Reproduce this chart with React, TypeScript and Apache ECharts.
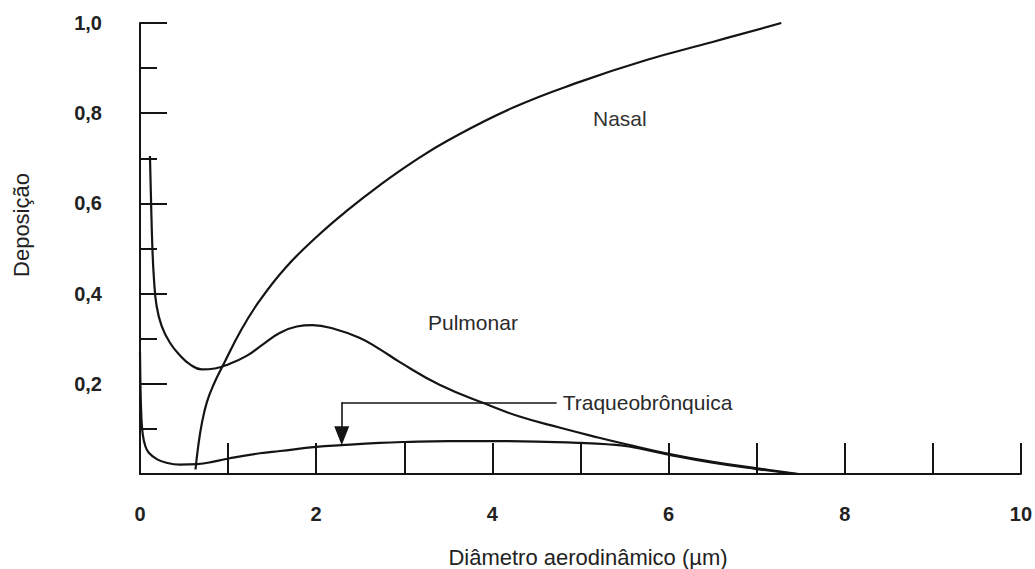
import { useEffect, useRef } from 'react';
import * as echarts from 'echarts';

// Deposition fraction vs. aerodynamic diameter (µm), one curve per region
const nasal: [number, number][] = [
  [0.63, 0.01], [0.66, 0.06], [0.7, 0.11], [0.76, 0.16], [0.84, 0.2], [0.94, 0.24],
  [1.15, 0.32], [1.36, 0.385], [1.65, 0.457], [2.0, 0.525], [2.35, 0.584], [2.72, 0.64],
  [3.1, 0.692], [3.5, 0.74], [4.23, 0.812], [5.0, 0.87], [5.75, 0.918], [6.5, 0.958],
  [7.28, 1.0],
];

const pulmonar: [number, number][] = [
  [0.113, 0.705], [0.125, 0.609], [0.14, 0.505], [0.159, 0.431], [0.189, 0.372],
  [0.246, 0.328], [0.34, 0.291], [0.454, 0.263], [0.567, 0.243], [0.7, 0.232],
  [0.85, 0.234], [1.0, 0.243], [1.21, 0.262], [1.4, 0.288], [1.59, 0.313], [1.78, 0.327],
  [1.96, 0.33], [2.2, 0.322], [2.49, 0.302], [2.72, 0.277], [2.95, 0.248], [3.4, 0.198],
  [3.93, 0.155], [4.3, 0.128], [4.76, 0.103], [5.2, 0.081], [5.52, 0.066], [6.0, 0.045],
  [6.5, 0.027], [7.03, 0.012], [7.48, 0.0],
];

const traqueobronquica: [number, number][] = [
  [0.0, 0.27], [0.005, 0.2], [0.015, 0.13], [0.03, 0.09], [0.06, 0.062], [0.1, 0.047],
  [0.19, 0.033], [0.3, 0.025], [0.45, 0.021], [0.65, 0.022], [0.85, 0.028], [1.02, 0.035],
  [1.36, 0.046], [1.59, 0.051], [2.0, 0.06], [2.29, 0.064], [2.72, 0.069], [3.0, 0.071],
  [3.5, 0.073], [4.0, 0.073], [4.5, 0.072], [5.0, 0.069], [5.3, 0.066], [5.55, 0.061],
  [6.0, 0.043], [6.5, 0.025], [7.0, 0.011], [7.45, 0.0],
];

// Callout for the tracheobronchial curve: elbow point, label end, arrow tip
const calloutX = 2.29;
const calloutY = 0.159;
const calloutEndX = 4.73;
const arrowY = 0.085;

const xTickLabels: Record<number, string> = { 0: '0', 2: '2', 4: '4', 6: '6', 8: '8', 10: '10' };
const yTickLabels: Record<string, string> = { '0.2': '0,2', '0.4': '0,4', '0.6': '0,6', '0.8': '0,8', '1.0': '1,0' };

const INK = '#141414';
const FONT = '"Liberation Sans", Arial, Helvetica, sans-serif';

export default function App() {
  const ref = useRef<HTMLDivElement>(null);

  useEffect(() => {
    const chart = echarts.init(ref.current!, null, { renderer: 'svg' });

    const curve = (name: string, data: [number, number][], extra: object = {}) => ({
      name,
      type: 'line',
      data,
      showSymbol: false,
      symbol: 'none',
      smooth: 0.45,
      lineStyle: { color: INK, width: 2.2 },
      silent: true,
      ...extra,
    });

    chart.setOption({
      animation: false,
      backgroundColor: '#ffffff',
      grid: { left: 140, right: 14, top: 23, bottom: 95 },
      xAxis: {
        type: 'value',
        min: 0,
        max: 10,
        interval: 1,
        axisLine: { lineStyle: { color: INK, width: 2 } },
        axisTick: { inside: true, length: 31, lineStyle: { color: INK, width: 2 } },
        axisLabel: {
          margin: 30,
          fontSize: 20,
          fontWeight: 'bold',
          fontFamily: FONT,
          color: '#222',
          formatter: (v: number) => xTickLabels[v] ?? '',
        },
        splitLine: { show: false },
      },
      yAxis: {
        type: 'value',
        min: 0,
        max: 1,
        interval: 0.2,
        axisLine: { show: true, lineStyle: { color: INK, width: 2 } },
        axisTick: { show: true, inside: true, length: 27, lineStyle: { color: INK, width: 2 } },
        minorTick: { show: true, splitNumber: 2, length: 17, lineStyle: { color: INK, width: 2 } },
        axisLabel: {
          margin: 38,
          fontSize: 20,
          fontWeight: 'bold',
          fontFamily: FONT,
          color: '#222',
          formatter: (v: number) => yTickLabels[v.toFixed(1)] ?? '',
        },
        splitLine: { show: false },
      },
      series: [
        curve('Nasal', nasal),
        curve('Pulmonar', pulmonar),
        curve('Traqueobrônquica', traqueobronquica, {
          markLine: {
            silent: true,
            symbol: ['none', 'none'],
            lineStyle: { color: INK, width: 1.6, type: 'solid' },
            label: { show: false },
            data: [
              [
                { coord: [calloutX, calloutY] },
                {
                  coord: [calloutEndX, calloutY],
                  label: {
                    show: true,
                    position: 'end',
                    distance: 6,
                    formatter: 'Traqueobrônquica',
                    fontSize: 21,
                    fontFamily: FONT,
                    color: '#2a2a2a',
                  },
                },
              ],
              [
                { coord: [calloutX, calloutY] },
                { coord: [calloutX, arrowY], symbol: 'triangle', symbolSize: [15, 19] },
              ],
            ],
          },
        }),
      ],
      graphic: [
        {
          type: 'text',
          x: 593,
          y: 118,
          silent: true,
          style: { text: 'Nasal', font: `21px ${FONT}`, fill: '#333', align: 'left', verticalAlign: 'middle' },
        },
        {
          type: 'text',
          x: 428,
          y: 322,
          silent: true,
          style: { text: 'Pulmonar', font: `21px ${FONT}`, fill: '#2a2a2a', align: 'left', verticalAlign: 'middle' },
        },
        {
          type: 'text',
          x: 21,
          y: 225,
          rotation: Math.PI / 2,
          silent: true,
          style: { text: 'Deposição', font: `22px ${FONT}`, fill: '#222', align: 'center', verticalAlign: 'middle' },
        },
        {
          type: 'text',
          x: 588,
          y: 557,
          silent: true,
          style: {
            text: 'Diâmetro aerodinâmico (µm)',
            font: `22px ${FONT}`,
            fill: '#222',
            align: 'center',
            verticalAlign: 'middle',
          },
        },
      ],
    });

    return () => chart.dispose();
  }, []);

  return (
    <div
      ref={ref}
      style={{ position: 'absolute', left: 0, top: 0, width: 1035, height: 569, background: '#fff' }}
    />
  );
}
